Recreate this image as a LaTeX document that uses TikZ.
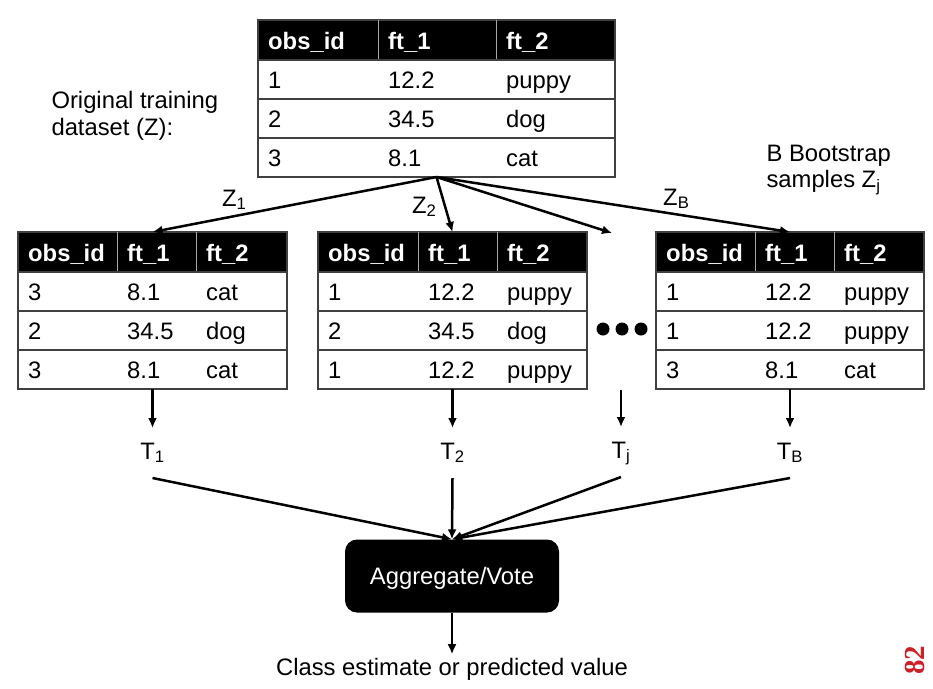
\documentclass[tikz,border=0pt]{standalone}
\usepackage{fontspec}
\setmainfont{Liberation Sans}
\newfontfamily\slidenumfont{Liberation Serif}
\usepackage{tikz}
\usetikzlibrary{arrows.meta,positioning,calc}

\definecolor{rulegray}{RGB}{64,64,64}
\definecolor{slidered}{RGB}{204,32,39}
\newcommand{\slidefont}{\fontsize{23.8}{26.5}\selectfont}

\tikzset{
  hdbar/.style={fill=black, draw=rulegray, line width=1.6pt, minimum height=40, inner sep=0pt, outer sep=0pt, anchor=north west},
  rowbox/.style={fill=white, draw=rulegray, line width=1.6pt, minimum height=39, inner sep=0pt, outer sep=0pt, anchor=north west},
  hdtext/.style={text=white, font=\slidefont\bfseries, anchor=west, inner sep=0pt, text height=18pt, text depth=0pt},
  celltext/.style={anchor=west, inner sep=0pt, text height=18pt, text depth=0pt},
  colrule/.style={draw=gray!70, line width=1pt},
  link/.style={-{Latex[length=10pt,width=9pt]}, line width=2.5pt},
  tlabel/.style={inner sep=0pt, text height=17pt, text depth=5pt, outer sep=14pt},
  zlabel/.style={anchor=base west, inner sep=0pt},
  aggbox/.style={fill=black, text=white, rounded corners=12pt, minimum width=214, minimum height=73, inner sep=0pt, text height=17pt, text depth=0pt},
}

% #1 name, #2 x, #3 y (top left), #4-#6 column widths, #7 rows a/b/c
\newcommand{\bagtable}[7]{%
  \node[hdbar, minimum width={#4+#5+#6}] (#1-h) at (#2,#3) {};
  \draw[colrule] ($(#1-h.north west)+(#4,0)$) -- ($(#1-h.south west)+(#4,0)$);
  \draw[colrule] ($(#1-h.north west)+({#4+#5},0)$) -- ($(#1-h.south west)+({#4+#5},0)$);
  \node[hdtext] (#1-h-a) at ($(#1-h.west)+(10,0)$) {obs\_id};
  \node[hdtext] (#1-h-b) at ($(#1-h.west)+({#4+10},0)$) {ft\_1};
  \node[hdtext] (#1-h-c) at ($(#1-h.west)+({#4+#5+10},0)$) {ft\_2};
  \foreach \a/\b/\c [count=\i] in {#7} {
    \node[rowbox, minimum width={#4+#5+#6}] (#1-r\i) at ($(#1-h.south west)+(0,{(\i-1)*39})$) {};
    \node[celltext] (#1-r\i-a) at ($(#1-r\i.west)+(10,0)$) {\a};
    \node[celltext] (#1-r\i-b) at ($(#1-r\i.west)+({#4+10},0)$) {\b};
    \node[celltext] (#1-r\i-c) at ($(#1-r\i.west)+({#4+#5+10},0)$) {\c};
  }%
}

\begin{document}
\begin{tikzpicture}[x=1pt, y=-1pt, font=\slidefont]
    \useasboundingbox (0,0) rectangle (933,688);

    % Original data
    \bagtable{orig}{258}{20}{120}{118}{119}{1/12.2/puppy, 2/34.5/dog, 3/8.1/cat}
    \node[anchor=west, align=left] (origtxt) at (48,116) {Original training\\dataset (Z):};

    % Bootstrap samples
    \bagtable{bag1}{18}{232}{99}{79}{91}{3/8.1/cat, 2/34.5/dog, 3/8.1/cat}
    \bagtable{bag2}{318}{232}{100}{79}{90}{1/12.2/puppy, 2/34.5/dog, 1/12.2/puppy}
    \bagtable{bagB}{656}{232}{99}{79}{90}{1/12.2/puppy, 1/12.2/puppy, 3/8.1/cat}
    \node[anchor=west, align=left] (bagtxt) at (763,170) {B Bootstrap\\samples Z\textsubscript{j}};

    % Dots
    \coordinate (dots) at (622,329);
    \foreach \dx in {-19,0,19}
        \fill ($(dots)+(\dx,0)$) circle (6.5);
    \coordinate (jin) at (612,233);
    \coordinate (jtop) at (621,390);

    % Sampling
    \draw[link] (orig-r3.south) -- (bag1-h.north);
    \draw[link] (orig-r3.south) -- (bag2-h.north);
    \draw[link] (orig-r3.south) -- (jin);
    \draw[link] (orig-r3.south) -- (bagB-h.north);
    \node[zlabel] (z1) at (222,206) {Z\textsubscript{1}};
    \node[zlabel] (z2) at (412,213) {Z\textsubscript{2}};
    \node[zlabel] (zB) at (663,205) {Z\textsubscript{B}};

    % Trees
    \node[tlabel] (t1) at ($(bag1-r3.south)+(0,64)$) {T\textsubscript{1}};
    \node[tlabel] (t2) at ($(bag2-r3.south)+(0,64)$) {T\textsubscript{2}};
    \node[tlabel] (tj) at (621,452) {T\textsubscript{j}};
    \node[tlabel] (tB) at ($(bagB-r3.south)+(0,64)$) {T\textsubscript{B}};
    \draw[link] (bag1-r3.south) -- (t1);
    \draw[link] (bag2-r3.south) -- (t2);
    \draw[link] (jtop) -- (tj);
    \draw[link] (bagB-r3.south) -- (tB);

    % Aggregate
    \node[aggbox] (agg) at (452,576) {Aggregate/Vote};
    \draw[link] (t1.south) -- (agg.north);
    \draw[link] (t2.south) -- (agg.north);
    \draw[link] (tj.south) -- (agg.north);
    \draw[link] (tB.south) -- (agg.north);
    \node[anchor=base] (out) at (452,675) {Class estimate or predicted value};
    \draw[link] (agg.south) -- (out.north);

    \node[rotate=90, text=slidered, font=\slidenumfont\bfseries\fontsize{29}{29}\selectfont, inner sep=0pt] (slidenum) at (915,660) {82};
\end{tikzpicture}
\end{document}
